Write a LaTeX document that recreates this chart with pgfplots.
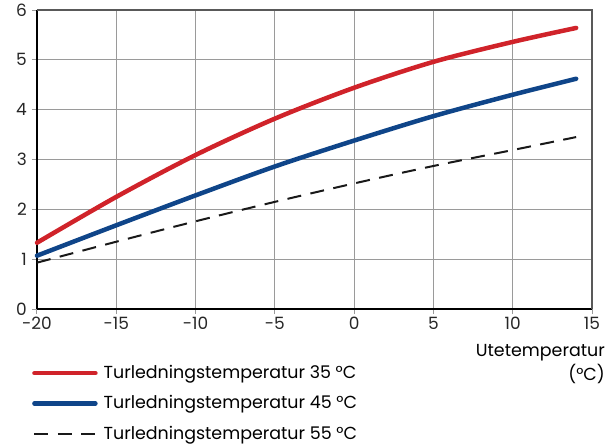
\documentclass[border=0pt]{standalone}
\usepackage{fontspec}
\setmainfont{Poppins}
\usepackage{pgfplots}
\pgfplotsset{compat=1.18}
\definecolor{cred}{HTML}{D0232A}
\definecolor{cblue}{HTML}{0F4589}
\definecolor{cgrid}{HTML}{9A9A9A}
\begin{document}
\fontsize{17.5}{21}\selectfont
\begin{tikzpicture}
\useasboundingbox (-37bp,-137bp) rectangle (579bp,309bp);
\begin{axis}[
  at={(0,0)}, anchor=south west,
  scale only axis, width=555bp, height=299bp,
  xmin=-20, xmax=15, ymin=0, ymax=6,
  xtick={-20,-15,...,15}, ytick={0,1,...,6},
  axis lines*=left,
  axis line style={line width=2.4bp, black, -},
  grid=major,
  major grid style={cgrid, line width=1bp},
  tick align=outside, major tick length=5bp,
  tick style={cgrid, line width=1bp},
  /pgf/number format/assume math mode=true,
  ticklabel style={font=\fontsize{17}{20}\selectfont, text=black!85, inner sep=2bp},
  xticklabel style={yshift=-1bp},
  yticklabel style={xshift=-3bp},
  xlabel={Utetemperatur\\(°C)},
  xlabel style={at={(rel axis cs:1,0)}, anchor=north east, xshift=14bp, yshift=-34bp, align=right, font=\fontsize{17.5}{24}\selectfont, inner sep=1bp},
  legend cell align=left,
  legend style={at={(rel axis cs:0,0)}, anchor=north west, xshift=-8bp, yshift=-52bp, draw=none, fill=none, font=\fontsize{17.5}{21}\selectfont, row sep=10.5bp, column sep=4bp},
  legend image code/.code={\draw[#1] (0bp,0bp) -- (61bp,0bp);},
  clip=false,
  after end axis/.code={
    \draw[black!65, line width=1.8bp] (rel axis cs:0,1) -- (rel axis cs:1,1) -- (rel axis cs:1,0);
  },
]
\addplot[cred, line width=4.5bp, line cap=round, smooth] coordinates {
(-20,1.33) (-15,2.25) (-10,3.09) (-5,3.82) (0,4.44) (5,4.96) (10,5.36) (14,5.64)};
\addlegendentry{Turledningstemperatur 35 °C}
\addplot[cblue, line width=4.5bp, line cap=round, smooth] coordinates {
(-20,1.07) (-15,1.68) (-10,2.28) (-5,2.86) (0,3.38) (5,3.87) (10,4.30) (14,4.62)};
\addlegendentry{Turledningstemperatur 45 °C}
\addplot[black!90, line width=2bp, dash pattern=on 14bp off 9.5bp, smooth] coordinates {
(-20,0.93) (-15,1.35) (-10,1.76) (-5,2.15) (0,2.52) (5,2.87) (10,3.19) (14,3.45)};
\addlegendentry{Turledningstemperatur 55 °C}
\end{axis}
\end{tikzpicture}
\end{document}
